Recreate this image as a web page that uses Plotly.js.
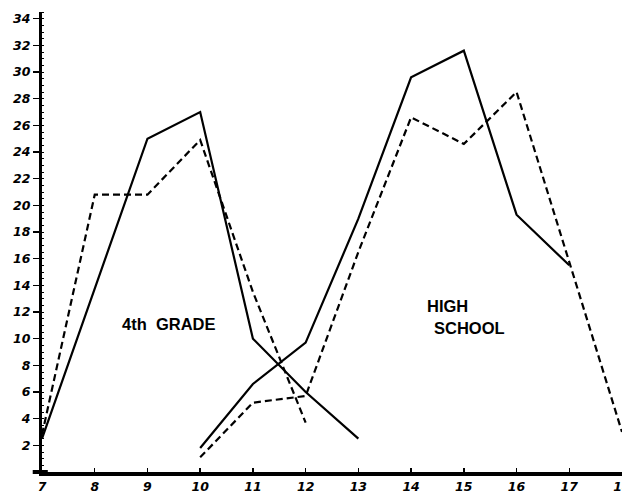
<!DOCTYPE html>
<html><head><meta charset="utf-8">
<script src="https://cdn.plot.ly/plotly-3.0.1.min.js"></script>
<style>html,body{margin:0;padding:0;background:#fff}#chart{width:622px;height:497px}</style>
</head><body><div id="chart"></div>
<script>
// 4th grade curves
const gradeAge = [7, 8, 9, 10, 11, 12, 13];
const gradeSolid = [2.5, 13.8, 25.0, 27.0, 10.0, 6.0, 2.5];
const gradeDashAge = [7, 8, 9, 10, 11, 12];
const gradeDashed = [2.8, 20.8, 20.8, 24.9, 13.5, 3.7];
// High school curves
const hsAge = [10, 11, 12, 13, 14, 15, 16, 17];
const hsSolid = [1.8, 6.6, 9.7, 19.0, 29.6, 31.6, 19.3, 15.5];
const hsDashAge = [10, 11, 12, 13, 14, 15, 16, 17, 18];
const hsDashed = [1.1, 5.2, 5.7, 16.5, 26.6, 24.6, 28.5, 15.7, 3.0];
const xTicks = [7, 8, 9, 10, 11, 12, 13, 14, 15, 16, 17, 18];
const yTicks = [2, 4, 6, 8, 10, 12, 14, 16, 18, 20, 22, 24, 26, 28, 30, 32, 34];

const solid = {color: '#000', width: 2.2, dash: 'solid'};
const dashed = {color: '#000', width: 2.2, dash: '7px,4px'};
const traces = [
  {x: gradeAge, y: gradeSolid, mode: 'lines', line: solid, cliponaxis: false},
  {x: gradeDashAge, y: gradeDashed, mode: 'lines', line: dashed, cliponaxis: false},
  {x: hsAge, y: hsSolid, mode: 'lines', line: solid, cliponaxis: false},
  {x: hsDashAge, y: hsDashed, mode: 'lines', line: dashed, cliponaxis: false}
];
const tickFont = {family: 'DejaVu Sans, Liberation Sans, sans-serif', size: 12.5, color: '#000', weight: 'bold', style: 'italic'};
const textFont = {family: 'Liberation Sans, Arial, sans-serif', size: 16.5, color: '#000', weight: 'bold'};
const layout = {
  width: 622, height: 497,
  margin: {l: 42, r: 0, t: 12, b: 25},
  paper_bgcolor: '#fff', plot_bgcolor: '#fff',
  showlegend: false,
  xaxis: {
    range: [7, 18.0], tickvals: xTicks, ticktext: xTicks.map(String),
    showgrid: false, zeroline: false, showline: true, linecolor: '#000', linewidth: 4,
    ticks: 'inside', ticklen: 4, tickwidth: 1.5, tickcolor: '#000',
    ticklabeloverflow: 'allow',
    tickfont: tickFont, fixedrange: true
  },
  yaxis: {
    range: [0, 34.5], tickvals: yTicks, ticktext: yTicks.map(String),
    showgrid: false, zeroline: false, showline: true, linecolor: '#000', linewidth: 3,
    ticks: 'outside', ticklen: 6, tickwidth: 1.5, tickcolor: '#000',
    minor: {dtick: 0.5, ticks: 'inside', ticklen: 2, tickwidth: 1, tickcolor: '#000'},
    tickfont: tickFont, fixedrange: true
  },
  shapes: [
    {type: 'line', xref: 'paper', yref: 'paper', x0: -0.016, x1: 0.01, y0: 0, y1: 0,
     line: {color: '#000', width: 4}}
  ],
  annotations: [
    {x: 9.40, y: 11.1, xref: 'x', yref: 'y', text: '4th  GRADE', showarrow: false, font: textFont},
    {x: 14.27, y: 12.45, xref: 'x', yref: 'y', text: 'HIGH', showarrow: false, xanchor: 'left', font: textFont},
    {x: 14.40, y: 10.8, xref: 'x', yref: 'y', text: 'SCHOOL', showarrow: false, xanchor: 'left', font: textFont}
  ]
};
Plotly.newPlot('chart', traces, layout, {displayModeBar: false, staticPlot: true});
</script></body></html>
